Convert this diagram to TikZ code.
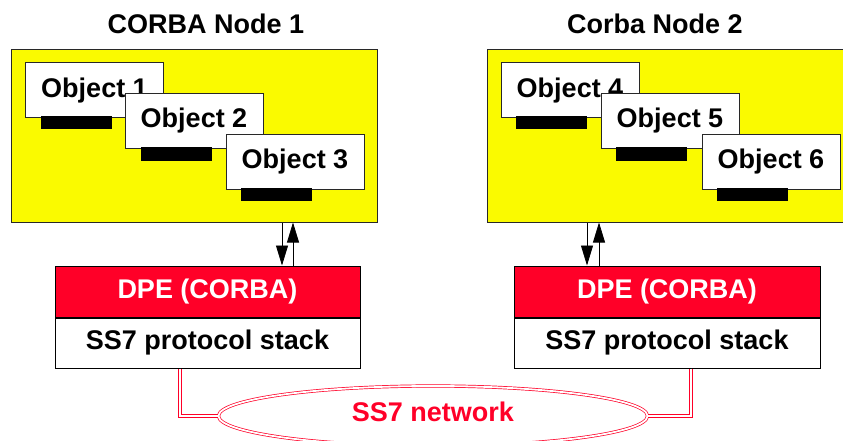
\documentclass[tikz,border=0pt]{standalone}
\usepackage{fontspec}
\setmainfont{Liberation Sans}
\usetikzlibrary{shapes.geometric,arrows.meta}
\definecolor{ylw}{RGB}{250,250,0}
\definecolor{redx}{RGB}{255,0,40}
\definecolor{edge}{RGB}{40,40,40}
\tikzset{
  every node/.style={font=\fontsize{27}{31}\selectfont\bfseries, inner sep=0pt},
  ybox/.style={draw=edge, fill=ylw, line width=1pt},
  objbox/.style={draw=edge, fill=white, line width=1pt, minimum width=138pt, minimum height=55pt},
  barbox/.style={fill=black, minimum width=71pt, minimum height=13pt},
  dpebox/.style={draw=black, fill=redx, text=white, line width=1pt, minimum height=51pt},
  stkbox/.style={draw=black, fill=white, line width=1pt, minimum height=50pt},
  arr/.style={line width=0.8pt, -{Triangle[length=20pt,width=12pt]}},
  dbl/.style={draw=redx, double=white, double distance=1.8pt, line width=0.7pt},
}
\begin{document}
\begin{tikzpicture}[x=1pt,y=-1pt]
\useasboundingbox (0,0) rectangle (843,441);
% titles
\node (t1) at (206,24) {CORBA Node 1};
\node (t2) at (655,24) {Corba Node 2};
% yellow nodes
\node[ybox, minimum width=366pt, minimum height=172pt] (n1) at (194,136) {};
\node[ybox, minimum width=356pt, minimum height=172pt] (n2) at (665,136) {};
% objects left
\node[objbox] (o1) at (94.5,90.5) {Object 1};
\node[barbox] (b1) at (76.5,122.5) {};
\node[objbox] (o2) at (194,121) {Object 2};
\node[barbox] (b2) at (176,154) {};
\node[objbox] (o3) at (295,162) {Object 3};
\node[barbox] (b3) at (276.5,194) {};
% objects right
\node[objbox] (o4) at (570,90.5) {Object 4};
\node[barbox] (b4) at (551.5,122.5) {};
\node[objbox] (o5) at (670,121) {Object 5};
\node[barbox] (b5) at (651.5,154) {};
\node[objbox] (o6) at (771,162) {Object 6};
\node[barbox] (b6) at (752.5,194) {};
% DPE stacks
\node[dpebox, minimum width=305pt] (d1) at (207.5,291.5) {DPE (CORBA)};
\node[stkbox, minimum width=305pt, anchor=north] (s1) at (d1.south) {SS7 protocol stack};
\node[dpebox, minimum width=306pt] (d2) at (667,291.5) {DPE (CORBA)};
\node[stkbox, minimum width=306pt, anchor=north] (s2) at (d2.south) {SS7 protocol stack};
% arrows
\coordinate (a1) at (282,0);
\coordinate (a2) at (293,0);
\coordinate (a3) at (587,0);
\coordinate (a4) at (599,0);
\draw[arr] (a1 |- n1.south) -- (a1 |- d1.north);
\draw[arr] (a2 |- d1.north) -- (a2 |- n1.south);
\draw[arr] (a3 |- n2.south) -- (a3 |- d2.north);
\draw[arr] (a4 |- d2.north) -- (a4 |- n2.south);
% network
\node[ellipse, dbl, minimum width=429pt, minimum height=60pt, text=redx] (net) at (433,416) {};
\node[text=redx] (netl) at (433,412) {SS7 network};
\coordinate (c1) at (180,0);
\coordinate (c2) at (691,0);
\draw[dbl] (c1 |- s1.south) |- (net.west);
\draw[dbl] (c2 |- s2.south) |- (net.east);
\end{tikzpicture}
\end{document}
